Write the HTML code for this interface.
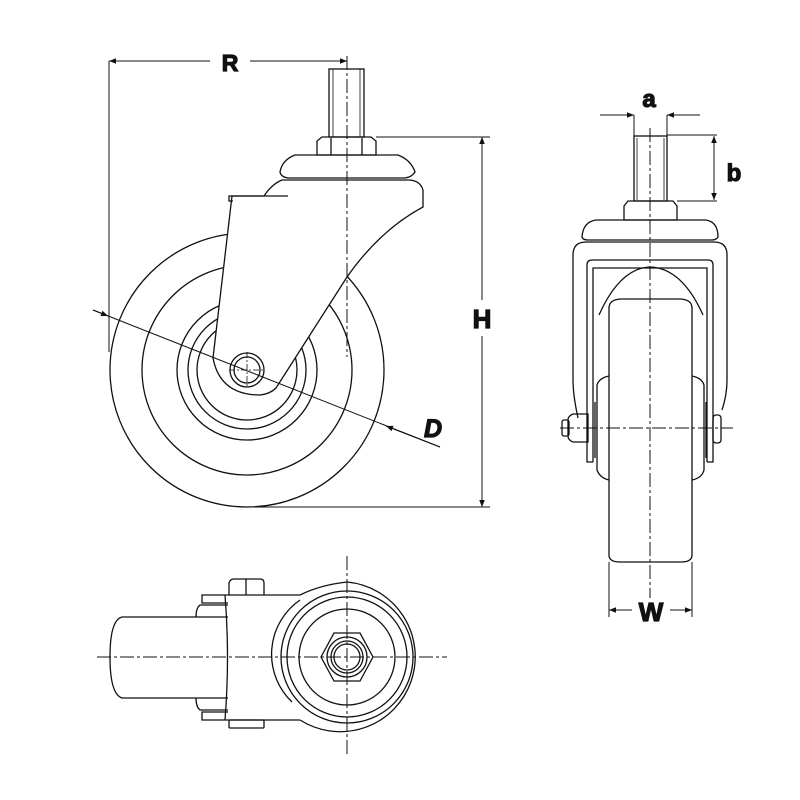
<!DOCTYPE html>
<html><head><meta charset="utf-8"><style>
html,body{margin:0;padding:0;background:#fff}
svg{display:block}
text{font-family:"Liberation Sans",sans-serif;font-weight:bold;fill:#111;stroke:#111;stroke-width:1.2}
</style></head><body>
<svg width="800" height="800" viewBox="0 0 800 800" xmlns="http://www.w3.org/2000/svg">
<defs>
<marker id="ar" viewBox="0 0 10 10" refX="10" refY="5" markerWidth="10" markerHeight="7" orient="auto-start-reverse" markerUnits="userSpaceOnUse"><path d="M0,1 L10,5 L0,9 z" fill="#111"/></marker>
</defs>
<g fill="none" stroke="#111" stroke-width="1.3">
<!-- SIDE VIEW -->
<line x1="109" y1="61" x2="109" y2="352" stroke-width="1"/>
<line x1="109" y1="61" x2="210" y2="61" marker-start="url(#ar)" stroke-width="1"/>
<line x1="250" y1="61" x2="347" y2="61" marker-end="url(#ar)" stroke-width="1"/>
<rect x="329" y="69" width="35" height="68"/>
<line x1="333" y1="69" x2="333" y2="137" stroke-width="0.8"/>
<line x1="360" y1="69" x2="360" y2="137" stroke-width="0.8"/>
<path d="M317,155 L317,141 L322,137 L371,137 L376,141 L376,155 Z"/>
<line x1="331" y1="138" x2="331" y2="155"/><line x1="362" y1="138" x2="362" y2="155"/>
<path d="M280,172 Q282,160 295,155 L398,155 Q411,160 415,172 Q412,177 405,178 L288,178 Q281,177 280,172 Z"/>
<line x1="288" y1="181" x2="405" y2="181" stroke-width="0.8"/>
<!-- wheel circles -->
<circle cx="247" cy="370" r="137"/>
<circle cx="247" cy="370" r="105"/>
<circle cx="247" cy="370" r="70"/>
<circle cx="247" cy="370" r="59"/>
<circle cx="247" cy="370" r="50"/>
<!-- fork body -->
<path d="M232,196 L213,358 Q220,395 260,395 Q270,394 276,388 L347,277 Q380,230 423,207 L423,190 Q420,180 408,180 L282,180 Q272,184 264,196 Z" fill="#fff"/>
<line x1="232" y1="196" x2="288" y2="196"/>
<path d="M232,196 L229,196 L229,201 L233,201"/>
<circle cx="247" cy="370" r="17" fill="#fff"/>
<circle cx="247" cy="370" r="13"/>
<line x1="229" y1="370" x2="265" y2="370" stroke-width="0.8" stroke-dasharray="6,2,2,2"/>
<line x1="247" y1="352" x2="247" y2="388" stroke-width="0.8" stroke-dasharray="6,2,2,2"/>
<line x1="347" y1="56" x2="347" y2="357" stroke-width="1" stroke-dasharray="14,3,3,3"/>
<!-- D dim -->
<line x1="93" y1="310" x2="440" y2="447" stroke-width="1"/>
<line x1="93" y1="310" x2="108" y2="316" marker-end="url(#ar)" stroke-width="1"/>
<line x1="440" y1="447" x2="386" y2="426" marker-end="url(#ar)" stroke-width="1"/>
<!-- H dim -->
<line x1="376" y1="137" x2="490" y2="137" stroke-width="1"/>
<line x1="250" y1="507" x2="490" y2="507" stroke-width="1"/>
<line x1="482" y1="300" x2="482" y2="137" marker-end="url(#ar)" stroke-width="1"/>
<line x1="482" y1="336" x2="482" y2="507" marker-end="url(#ar)" stroke-width="1"/>

<!-- FRONT VIEW -->
<line x1="600" y1="115" x2="634" y2="115" marker-end="url(#ar)" stroke-width="1"/>
<line x1="700" y1="115" x2="667" y2="115" marker-end="url(#ar)" stroke-width="1"/>
<line x1="634" y1="115" x2="634" y2="137" stroke-width="1"/>
<line x1="667" y1="115" x2="667" y2="137" stroke-width="1"/>
<rect x="634" y="136" width="33" height="65"/>
<line x1="637" y1="138" x2="637" y2="200" stroke-width="0.8"/>
<line x1="664" y1="138" x2="664" y2="200" stroke-width="0.8"/>
<line x1="667" y1="135" x2="717" y2="135" stroke-width="1"/>
<line x1="677" y1="201" x2="717" y2="201" stroke-width="1"/>
<line x1="714" y1="150" x2="714" y2="136" marker-end="url(#ar)" stroke-width="1"/>
<line x1="714" y1="185" x2="714" y2="200" marker-end="url(#ar)" stroke-width="1"/>
<line x1="714" y1="150" x2="714" y2="185" stroke-width="1"/>
<path d="M624,220 L624,206 L628,201 L673,201 L677,206 L677,220 Z"/>
<path d="M582,237 Q583,222 596,220 L706,220 Q718,222 718,237 Q716,240 712,240 L588,240 Q583,240 582,237 Z"/>
<path d="M578,418 Q573,395 573,380 L573,255 Q573,242 586,242 L714,242 Q727,242 727,255 L727,380 Q727,395 722,410" fill="#fff"/>
<path d="M593,462 L587,462 L587,265 Q587,260 592,260 L708,260 Q713,260 713,265 L713,462 L707,462"/>
<path d="M593,462 L593,268 L707,268 L707,462"/>
<path d="M599,315 Q620,268 650,267 Q682,268 703,315"/>
<path d="M609,480 Q600,478 597,470 L597,385 Q599,378 609,376 M692,376 Q702,378 704,385 L704,470 Q702,478 692,480" fill="#fff"/>
<line x1="595" y1="402" x2="595" y2="458"/><line x1="706" y1="402" x2="706" y2="458"/>
<path d="M609,308 Q609,300 620,299 L681,299 Q692,300 692,308 L692,555 Q692,562 681,562 L620,562 Q609,562 609,555 Z" fill="#fff"/>
<path d="M573,414 L588,414 L588,442 L573,442 Q568,440 568,436 L568,420 Q568,416 573,414 Z"/>
<rect x="562" y="420" width="7" height="16" rx="2"/>
<rect x="713" y="415" width="8" height="28" rx="3"/>
<line x1="560" y1="428" x2="733" y2="428" stroke-width="1" stroke-dasharray="14,3,3,3"/>
<line x1="650" y1="128" x2="650" y2="598" stroke-width="1" stroke-dasharray="14,3,3,3"/>
<line x1="609" y1="562" x2="609" y2="617" stroke-width="1"/>
<line x1="692" y1="562" x2="692" y2="617" stroke-width="1"/>
<line x1="632" y1="610" x2="609" y2="610" marker-end="url(#ar)" stroke-width="1"/>
<line x1="670" y1="610" x2="692" y2="610" marker-end="url(#ar)" stroke-width="1"/>

<!-- BOTTOM VIEW -->
<path d="M228,617 L122,617 Q110,620 110,657 Q110,694 122,698 L228,698"/>
<path d="M228,603 L202,603 L202,595 L300,595 M228,712 L202,712 L202,720 L300,720"/>
<path d="M228,605 L200,605 Q196,608 196,617 M228,710 L200,710 Q196,707 196,698"/>
<path d="M225,595 Q230,657 225,720"/>
<path d="M229,595 L229,583 Q230,579 234,579 L260,579 Q264,579 264,583 L264,595"/>
<line x1="246" y1="579" x2="246" y2="595"/>
<rect x="229" y="720" width="35" height="8" rx="1"/>
<path d="M300,595 Q320,585 347,582 A75,75 0 1 1 300,720"/>
<path d="M300,600 A66,66 0 0 0 292,702"/>
<circle cx="347" cy="657" r="66"/>
<circle cx="347" cy="657" r="60"/>
<circle cx="347" cy="657" r="48"/>
<path d="M321,657 L334,633 L360,633 L373,657 L360,681 L334,681 Z"/>
<circle cx="347" cy="657" r="20"/>
<circle cx="347" cy="657" r="16"/>
<circle cx="347" cy="657" r="13"/>
<line x1="97" y1="657" x2="447" y2="657" stroke-width="1" stroke-dasharray="14,3,3,3"/>
<line x1="347" y1="556" x2="347" y2="755" stroke-width="1" stroke-dasharray="14,3,3,3"/>
</g>
<text x="230" y="71" font-size="23" text-anchor="middle">R</text>
<text x="482" y="328" font-size="26" text-anchor="middle">H</text>
<text x="433" y="437" font-size="25" text-anchor="middle" font-style="italic">D</text>
<text x="649" y="107" font-size="24" text-anchor="middle">a</text>
<text x="734" y="181" font-size="24" text-anchor="middle">b</text>
<text x="651" y="621" font-size="26" text-anchor="middle">W</text>
</svg>
</body></html>
